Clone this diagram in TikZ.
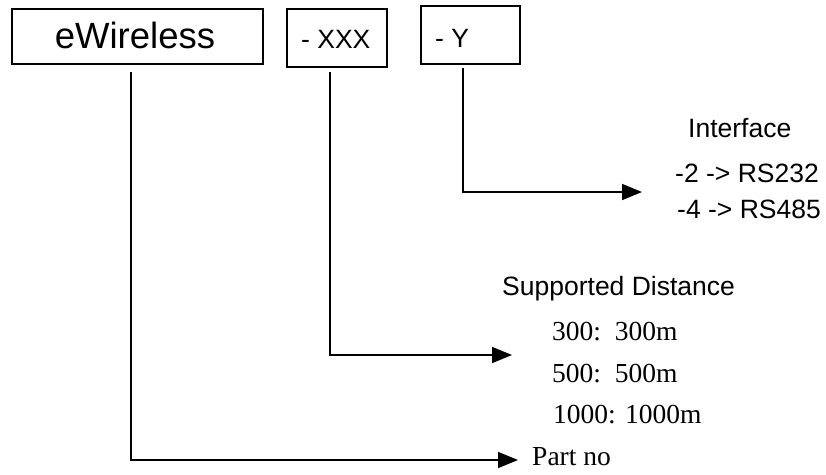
\documentclass[tikz,border=0pt]{standalone}
\usepackage{fontspec}
\setmainfont{Liberation Serif}
\newfontfamily\arial{Liberation Sans}
\usetikzlibrary{arrows.meta}
\begin{document}
\begin{tikzpicture}[x=1pt,y=-1pt,
  partbox/.style={draw,line width=1.6pt,inner sep=0pt,anchor=north west},
  conn/.style={line width=1.6pt,-{Triangle[length=20pt,width=16pt]}},
  sanslbl/.style={anchor=base west,inner sep=0pt,font=\arial\fontsize{26.5}{30}\selectfont},
  seriflbl/.style={anchor=base west,inner sep=0pt,font=\fontsize{27.5}{32}\selectfont}]
\useasboundingbox (0,0) rectangle (826,474);
% boxes
\node[partbox,minimum width=251pt,minimum height=55pt] (b1) at (11,8) {};
\node[anchor=base,inner sep=0pt,font=\arial\fontsize{36.5}{40}\selectfont] (t1) at (135,48) {eWireless};
\node[partbox,minimum width=100pt,minimum height=58pt] (b2) at (286,8) {};
\node[anchor=base west,inner sep=0pt,font=\arial\fontsize{26.5}{30}\selectfont] (t2) at (301,48) {- XXX};
\node[partbox,minimum width=99pt,minimum height=58pt] (b3) at (420,5) {};
\node[anchor=base west,inner sep=0pt,font=\arial\fontsize{26.5}{30}\selectfont] (t3) at (435,47) {- Y};
% labels
\node[sanslbl] (if) at (688,137) {Interface};
\node[sanslbl] (rs2) at (675,182) {-2 -> RS232};
\node[sanslbl] (rs4) at (677,218) {-4 -> RS485};
\node[sanslbl] (sd) at (502,295) {Supported Distance};
\node[seriflbl] (d3) at (552,340) {300:\ \ 300m};
\node[seriflbl] (d5) at (552,382) {500:\ \ 500m};
\node[seriflbl] (d10) at (553,423) {1000: 1000m};
\node[seriflbl] (pn) at (532,465) {Part no};
% connector ends
\coordinate (s1) at (131,72);
\coordinate (c1) at (131,460);
\coordinate (e1) at (518,460);
\coordinate (s2) at (330,72);
\coordinate (c2) at (330,355);
\coordinate (e2) at (512,355);
\coordinate (s3) at (463,68);
\coordinate (c3) at (463,192);
\coordinate (e3) at (642,192);
\draw[conn] (s1) -- (c1) -- (e1);
\draw[conn] (s2) -- (c2) -- (e2);
\draw[conn] (s3) -- (c3) -- (e3);
\end{tikzpicture}
\end{document}
